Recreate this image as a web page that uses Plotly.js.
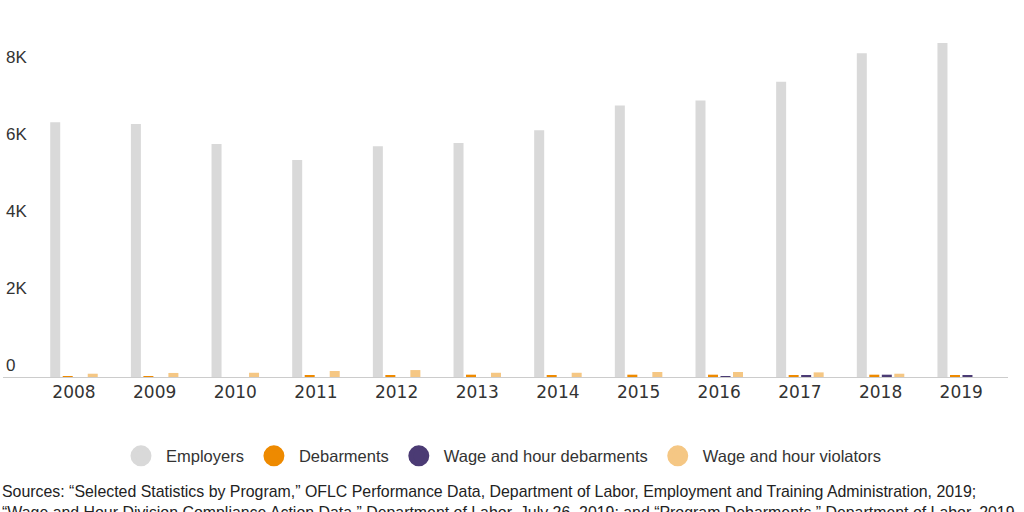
<!DOCTYPE html>
<html>
<head>
<meta charset="utf-8">
<script src="https://cdn.plot.ly/plotly-3.0.1.min.js"></script>
<style>
  html, body { margin: 0; padding: 0; background: #fff; }
  #chart { width: 1024px; height: 512px; }
</style>
</head>
<body>
<div id="chart"></div>
<script>
const years = ['2008', '2009', '2010', '2011', '2012', '2013', '2014', '2015', '2016', '2017', '2018', '2019']
const employers = [6610, 6565, 6045, 5625, 5985, 6070, 6400, 7040, 7170, 7660, 8400, 8665]
const debarments = [15, 15, 0, 45, 35, 60, 50, 60, 60, 35, 60, 50]
const whDebarments = [0, 0, 0, 0, 0, 0, 0, 0, 25, 30, 60, 30]
const whViolators = [85, 105, 110, 155, 180, 110, 110, 130, 130, 120, 85, 0]

const names = ['Employers', 'Debarments', 'Wage and hour debarments', 'Wage and hour violators']
const colors = ['#d9d9d9', '#ee8a00', '#4b3b74', '#f5c784']
const tickVals = [0, 2000, 4000, 6000, 8000]
const tickText = ['0', '2K', '4K', '6K', '8K']

const sources = 'Sources: \u201cSelected Statistics by Program,\u201d OFLC Performance Data, Department of Labor, Employment and Training Administration, 2019;<br>' +
    '\u201cWage and Hour Division Compliance Action Data,\u201d Department of Labor, July 26, 2019; and \u201cProgram Debarments,\u201d Department of Labor, 2019.'

const series = [employers, debarments, whDebarments, whViolators]

let data = []
// the bars themselves, legend handled by the dummy traces below
series.forEach((vals, i) => {
    data.push({
        type: 'bar',
        x: years,
        y: vals,
        name: names[i],
        marker: { color: colors[i] },
        showlegend: false,
        hoverinfo: 'x+y+name'
    })
})
// round legend swatches
names.forEach((n, i) => {
    data.push({
        type: 'scatter',
        mode: 'markers',
        x: [years[0]],
        y: [null],
        name: n,
        marker: { symbol: 'circle', size: 16, color: colors[i], line: { color: colors[i], width: 5 } },
        hoverinfo: 'skip'
    })
})

let layout = {
    width: 1024,
    height: 512,
    margin: { l: 3, r: 16, t: 30, b: 135 },
    paper_bgcolor: '#fff',
    plot_bgcolor: '#fff',
    barmode: 'group',
    bargap: 0.38,
    bargroupgap: 0.2,
    font: { family: 'Liberation Sans, Arial, sans-serif', color: '#333' },
    xaxis: {
        type: 'category',
        range: [-0.88, 11.58],
        showline: true,
        linecolor: '#cccccc',
        linewidth: 1,
        ticks: '',
        showgrid: false,
        tickfont: { family: 'DejaVu Sans, sans-serif', size: 17, color: '#333' }
    },
    yaxis: {
        range: [0, 9000],
        showgrid: false,
        zeroline: false,
        showline: false,
        tickvals: tickVals,
        ticktext: tickText,
        ticklabelposition: 'inside top',
        tickfont: { family: 'Liberation Sans, Arial, sans-serif', size: 17, color: '#333' }
    },
    legend: {
        orientation: 'h',
        x: 0.496,
        xanchor: 'center',
        y: -0.228,
        yanchor: 'middle',
        itemwidth: 40,
        font: { family: 'Liberation Sans, Arial, sans-serif', size: 16.5, color: '#333' }
    },
    annotations: [{
        xref: 'paper', yref: 'paper',
        x: 0, y: 0,
        xanchor: 'left', yanchor: 'top',
        xshift: -3, yshift: -104,
        align: 'left',
        showarrow: false,
        text: sources,
        font: { family: 'Liberation Sans, Arial, sans-serif', size: 15.9, color: '#222' }
    }]
}

Plotly.newPlot('chart', data, layout, { displayModeBar: false })
</script>
</body>
</html>
